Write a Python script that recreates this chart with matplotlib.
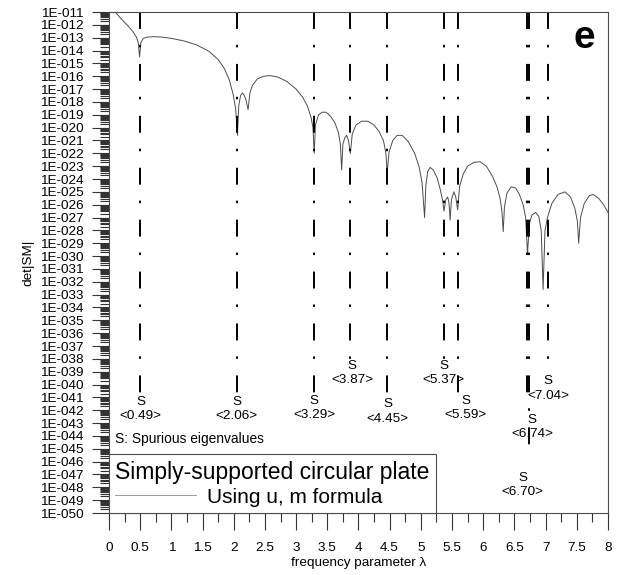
import numpy as np
import matplotlib.pyplot as plt
from matplotlib.ticker import FixedLocator, FuncFormatter, MultipleLocator, LogLocator

plt.rcParams['font.family'] = ['Liberation Sans', 'DejaVu Sans']

# det|SM| curve (lambda, log10 of det)
lam = [0.10, 0.20, 0.30, 0.38, 0.44, 0.47, 0.49, 0.51, 0.55, 0.62, 0.72, 0.85, 1.00, 1.20,
       1.40, 1.60, 1.75, 1.85, 1.93, 1.99, 2.03, 2.06, 2.08, 2.11, 2.14, 2.17, 2.20, 2.23,
       2.26, 2.30, 2.38, 2.48, 2.58, 2.70, 2.85, 3.00, 3.10, 3.18, 3.24, 3.27, 3.29, 3.31,
       3.36, 3.42, 3.48, 3.55, 3.62, 3.68, 3.71, 3.73, 3.75, 3.78, 3.81, 3.84, 3.87, 3.90,
       3.96, 4.05, 4.15, 4.25, 4.33, 4.40, 4.44, 4.46, 4.49, 4.55, 4.62, 4.70, 4.80, 4.90,
       4.97, 5.02, 5.06, 5.08, 5.11, 5.15, 5.20, 5.26, 5.31, 5.35, 5.37, 5.40, 5.43, 5.45,
       5.47, 5.49, 5.53, 5.56, 5.59, 5.62, 5.68, 5.75, 5.85, 5.95, 6.05, 6.15, 6.22, 6.27,
       6.30, 6.32, 6.34, 6.38, 6.45, 6.52, 6.58, 6.64, 6.68, 6.71, 6.74, 6.78, 6.84, 6.89,
       6.93, 6.96, 6.99, 7.03, 7.10, 7.20, 7.31, 7.40, 7.47, 7.51, 7.53, 7.56, 7.62, 7.70,
       7.76, 7.85, 7.93, 8.00]
logdet = [-11.0, -11.55, -12.05, -12.5, -12.95, -13.4, -14.5, -13.4, -13.05, -12.95, -12.92,
          -12.95, -13.05, -13.25, -13.55, -14.05, -14.7, -15.4, -16.3, -17.4, -18.5, -20.6,
          -18.3, -17.5, -17.3, -17.5, -17.9, -18.6, -17.3, -16.7, -16.2, -16.0, -15.95, -16.05,
          -16.4, -17.0, -17.6, -18.3, -19.2, -20.0, -22.0, -19.8, -19.0, -18.8, -18.8, -19.1,
          -19.6, -20.4, -21.3, -23.3, -21.3, -20.8, -20.6, -21.0, -22.0, -20.5, -19.8, -19.5,
          -19.5, -19.8, -20.3, -21.0, -22.0, -23.5, -21.9, -21.0, -20.6, -20.6, -21.1, -22.0,
          -23.0, -24.3, -27.0, -24.5, -23.4, -23.1, -23.3, -23.9, -24.8, -25.7, -26.5, -25.6,
          -25.4, -25.8, -27.2, -25.6, -25.0, -25.4, -26.4, -24.6, -23.6, -23.0, -22.7, -22.65,
          -23.0, -23.8, -24.6, -25.5, -26.5, -28.1, -26.2, -25.1, -24.6, -24.7, -25.2, -26.0,
          -27.0, -29.8, -27.5, -26.8, -26.6, -26.9, -28.0, -32.6, -28.0, -27.0, -25.9, -25.2,
          -25.0, -25.4, -26.3, -27.3, -29.0, -27.0, -25.9, -25.3, -25.2, -25.5, -26.0, -26.6]

# spurious eigenvalues and where their marker lines stop (log10)
spurious = [0.49, 2.06, 3.29, 3.87, 4.45, 5.37, 5.59, 6.70, 6.74, 7.04]
line_end = [-41.0, -41.0, -40.8, -38.3, -40.8, -38.0, -40.8, -41.0, -45.2, -38.6]
# label anchors (lambda, log10 of the "S" line)
label_x = [0.51, 2.05, 3.29, 3.90, 4.47, 5.37, 5.72, 6.63, 6.78, 7.04]
label_y = [-41.9, -41.9, -41.8, -39.1, -42.1, -39.1, -41.8, -47.8, -43.3, -40.3]

fig = plt.figure(figsize=(6.26, 5.75), dpi=100)
ax = fig.add_axes([0.1741, 0.1078, 0.7971, 0.8713])
ax.set_yscale('log')

curve, = ax.plot(lam, 10.0 ** np.array(logdet), color='0.3', lw=0.7)

for s, e in zip(spurious, line_end):
    ax.plot([s, s], [1e-11, 10.0 ** e], color='k', lw=1.4,
            linestyle=(0, (8.7, 8.2, 1.3, 8.5)), dash_capstyle='butt')

for s, lx, ly in zip(spurious, label_x, label_y):
    ax.text(lx, 10.0 ** ly, 'S\n<%.2f>' % s, ha='center', va='center',
            fontsize=9.7, linespacing=1.25)

ax.set_xlim(0, 8)
ax.set_ylim(1e-50, 1e-11)
ax.xaxis.set_major_locator(MultipleLocator(0.5))
ax.xaxis.set_minor_locator(MultipleLocator(0.25))
ax.xaxis.set_major_formatter(FuncFormatter(lambda v, p: ('%g' % v)))
ax.yaxis.set_major_locator(FixedLocator([10.0 ** k for k in range(-50, -10)]))
ax.yaxis.set_minor_locator(LogLocator(base=10, subs=np.arange(2, 10), numticks=400))
ax.yaxis.set_major_formatter(FuncFormatter(
    lambda v, p: '1E-%03d' % round(-np.log10(v))))
ax.tick_params(axis='both', which='major', length=12, width=0.8, labelsize=9.7,
               direction='out', color='0.2')
ax.tick_params(axis='both', which='minor', length=6.5, width=0.8, direction='out',
               color='0.2')
ax.tick_params(axis='x', which='major', pad=9)
ax.tick_params(axis='y', which='major', pad=6)
for sp in ax.spines.values():
    sp.set_linewidth(0.8)
    sp.set_color('0.3')

ax.set_xlabel('frequency parameter λ', fontsize=9.7, labelpad=2)
ax.set_ylabel('det|SM|', fontsize=9.7, labelpad=4)

ax.text(0.952, 0.948, 'e', transform=ax.transAxes, fontsize=28, fontweight='bold',
        ha='center', va='center')
ax.text(0.012, 0.148, 'S: Spurious eigenvalues', transform=ax.transAxes,
        fontsize=9.9, ha='left', va='center')

leg = ax.legend([curve], ['Using u, m formula'], title='Simply-supported circular plate',
                loc='lower left', bbox_to_anchor=(0, 0), borderaxespad=0,
                fancybox=False, edgecolor='0.3', framealpha=1, fontsize=15,
                title_fontsize=16.5, alignment='left', handlelength=3.9,
                borderpad=0.3, labelspacing=0.2, handletextpad=0.5)
leg.get_frame().set_linewidth(0.8)
leg.get_lines()[0].set_color('0.6')

fig.savefig('out.png', dpi=100)
